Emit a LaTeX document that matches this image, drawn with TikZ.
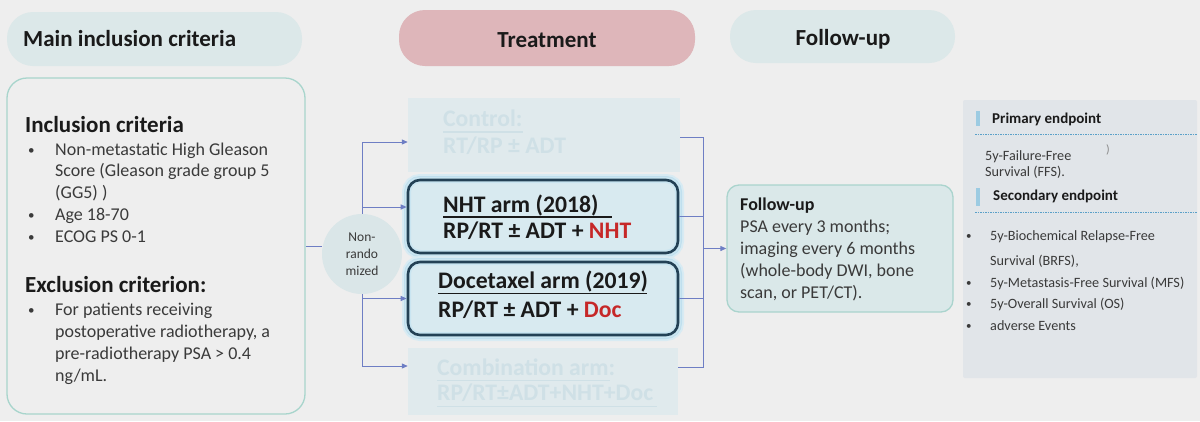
\documentclass[tikz,border=0pt]{standalone}
\usepackage{fontspec}
\setmainfont{Carlito}
\usetikzlibrary{arrows.meta}
\definecolor{bg}{HTML}{EEEEEE}
\definecolor{hdr}{HTML}{DCE8E9}
\definecolor{pinkc}{HTML}{DEB6BA}
\definecolor{tealb}{HTML}{A8D5CC}
\definecolor{ghost}{HTML}{E0EAED}
\definecolor{ghosttxt}{HTML}{CFE0E6}
\definecolor{armfill}{HTML}{D8EAF0}
\definecolor{armdark}{HTML}{234155}
\definecolor{glowfar}{HTML}{D8EBF3}
\definecolor{glowout}{HTML}{BFDFEE}
\definecolor{glowin}{HTML}{C9E5F1}
\definecolor{connc}{HTML}{6E7EC4}
\definecolor{circf}{HTML}{DAE6E8}
\definecolor{fufill}{HTML}{DAE8E9}
\definecolor{fubord}{HTML}{AAD4CD}
\definecolor{panelc}{HTML}{E1E5E9}
\definecolor{redt}{HTML}{C62828}
\definecolor{barc}{HTML}{9CCBE2}
\definecolor{dashc}{HTML}{5AA0C8}
\definecolor{txt}{HTML}{1A1A1A}
\definecolor{bodyc}{HTML}{3A3A3A}
\begin{document}
\begin{tikzpicture}[x=1pt,y=-1pt,
  pillbox/.style={rounded corners=26pt, inner sep=0pt, draw=none},
  lbl/.style={anchor=base west, inner sep=0pt},
  hdrfont/.style={font=\fontsize{23}{27}\selectfont\bfseries, text=txt},
  bodyfont/.style={font=\fontsize{18}{21.6}\selectfont, text=bodyc},
  bulfont/.style={font=\fontsize{13}{16}\selectfont, text=bodyc},
  armfont/.style={font=\fontsize{23.7}{28}\selectfont\bfseries, text=txt},
  ghostfont/.style={font=\fontsize{23.7}{28}\selectfont\bfseries, text=ghosttxt},
  ghostbox/.style={fill=ghost, inner sep=0pt, minimum width=272pt},
  armbox/.style={inner sep=0pt, minimum width=270pt, minimum height=73pt, rounded corners=12pt,
    preaction={draw=glowfar, line width=12pt},
    preaction={draw=glowout, line width=8pt},
    preaction={fill=armfill},
    preaction={draw=glowin, line width=6pt},
    draw=armdark, line width=2.6pt},
  uline/.style={line width=1.5pt},
  connline/.style={draw=connc, line width=1pt},
  arrline/.style={connline, -{Triangle[length=6pt,width=5pt]}},
  fufont/.style={font=\fontsize{18}{22}\selectfont, text=bodyc},
  rpbold/.style={font=\fontsize{15}{18}\selectfont\bfseries, text=txt},
  rpfont/.style={font=\fontsize{14.2}{17}\selectfont, text=bodyc},
  rpbul/.style={font=\fontsize{11}{14}\selectfont, text=bodyc}
]
\fill[bg] (0,0) rectangle (1200,421);
\useasboundingbox (0,0) rectangle (1200,421);

% headers
\node[pillbox, fill=hdr, minimum width=295pt, minimum height=54pt] (hmain) at (154.5,39) {};
\node[lbl, hdrfont] (hmaint) at (23,46) {Main inclusion criteria};
\node[pillbox, fill=pinkc, minimum width=296pt, minimum height=56pt] (htreat) at (547,38) {};
\node[hdrfont, anchor=base, inner sep=0pt] (htreatt) at (547,47) {Treatment};
\node[pillbox, fill=hdr, minimum width=225pt, minimum height=53pt] (hfu) at (842.5,36.5) {};
\node[hdrfont, anchor=base, inner sep=0pt] (hfut) at (843,45) {Follow-up};

% left box
\node[draw=tealb, line width=1.3pt, rounded corners=20pt, minimum width=298pt, minimum height=336pt, inner sep=0pt] (lbox) at (156,246) {};
\node[lbl, hdrfont] (inct) at (25,132) {Inclusion criteria};
\foreach \t [count=\i from 0] in {{Non-metastatic High Gleason},{Score (Gleason grade group 5},{(GG5) )},{Age 18-70},{ECOG PS 0-1}}
  \node[lbl, bodyfont] (inc\i) at (55,155+21.75*\i) {\t};
\node[lbl, bulfont] (bi1) at (28,154) {•};
\node[lbl, bulfont] (bi2) at (28,219) {•};
\node[lbl, bulfont] (bi3) at (28,241) {•};
\node[lbl, hdrfont] (exct) at (25,292) {Exclusion criterion:};
\foreach \t [count=\i from 0] in {{For patients receiving},{postoperative radiotherapy, a},{pre-radiotherapy PSA > 0.4},{ng/mL.}}
  \node[lbl, bodyfont] (exc\i) at (55,315+22*\i) {\t};
\node[lbl, bulfont] (be1) at (28,314) {•};

% circle
\node[circle, fill=circf, minimum size=80pt, inner sep=0pt, align=center,
  font=\fontsize{13.5}{17}\selectfont, text=bodyc] (circ) at (362,254) {Non-\\rando\\mized};

% arms
\node[ghostbox, minimum height=74pt] (ctrl) at (544,135) {};
\node[lbl, ghostfont] (ctrlt1) at (443,126) {Control:};
\draw[ghosttxt, uline] ([yshift=-6pt]ctrlt1.base west) -- ([yshift=-6pt]ctrlt1.base east);
\node[lbl, ghostfont] (ctrlt2) at (443,153) {RT/RP ± ADT};

\node[armbox] (nht) at (543,216.5) {};
\node[lbl, armfont] (nhtt1) at (443,212) {NHT arm (2018)};
\draw[txt, uline] ([yshift=-5pt]nhtt1.base west) -- ++(169,0);
\node[lbl, armfont] (nhtt2) at (443,238) {RP/RT ± ADT + \textcolor{redt}{NHT}};

\node[armbox] (doc) at (543,298.5) {};
\node[lbl, armfont] (doct1) at (438,288) {Docetaxel arm (2019)};
\draw[txt, uline] ([yshift=-5.5pt]doct1.base west) -- ++(209,0);
\node[lbl, armfont] (doct2) at (438,317) {RP/RT ± ADT + \textcolor{redt}{Doc}};

\node[ghostbox, minimum width=270pt, minimum height=67pt] (comb) at (543,381.5) {};
\node[lbl, ghostfont] (combt1) at (437,375) {Combination arm:};
\draw[ghosttxt, uline] ([yshift=-5.5pt]combt1.base west) -- ++(173,0);
\node[lbl, ghostfont] (combt2) at (437,400) {RP/RT±ADT+NHT+Doc};
\draw[ghosttxt, uline] ([yshift=-6.5pt]combt2.base west) -- ++(220,0);

% follow-up box
\node[draw=fubord, fill=fufill, line width=1.3pt, rounded corners=12pt, minimum width=226pt, minimum height=127pt, inner sep=0pt] (fu) at (840,248.5) {};
\node[lbl, font=\fontsize{18}{22}\selectfont\bfseries, text=txt] (fut) at (740,210) {Follow-up};
\foreach \t [count=\i from 0] in {{PSA every 3 months;},{imaging every 6 months},{(whole-body DWI, bone},{scan, or PET/CT).}}
  \node[lbl, fufont] (ful\i) at (740,232+22.2*\i) {\t};

% right panel
\node[fill=panelc, minimum width=234pt, minimum height=278pt, inner sep=0pt, rounded corners=2pt] (rp) at (1080,239) {};
\fill[barc] (976,111) rectangle (980,126);
\node[lbl, rpbold] (pe) at (992,123) {Primary endpoint};
\draw[dashc, line width=0.8pt, dash pattern=on 1.5pt off 1pt] (975,134) -- (1197,134);
\node[lbl, font=\fontsize{12}{14}\selectfont, text=bodyc!60] (paren) at (1106,153) {)};
\node[lbl, rpfont] (pe1) at (985,160) {5y-Failure-Free};
\node[lbl, rpfont] (pe2) at (985,176) {Survival (FFS).};
\fill[barc] (976,188) rectangle (980,206);
\node[lbl, rpbold] (se) at (993,200) {Secondary endpoint};
\draw[dashc, line width=0.8pt, dash pattern=on 1.5pt off 1pt] (975,212) -- (1197,212);
\node[lbl, rpfont] (se1) at (990,240) {5y-Biochemical Relapse-Free};
\node[lbl, rpfont] (se2) at (990,265) {Survival (BRFS),};
\node[lbl, rpfont] (se3) at (990,287) {5y-Metastasis-Free Survival (MFS)};
\node[lbl, rpfont] (se4) at (990,308) {5y-Overall Survival (OS)};
\node[lbl, rpfont] (se5) at (990,330) {adverse Events};
\node[lbl, rpbul] (sb1) at (966,239) {•};
\node[lbl, rpbul] (sb2) at (966,286) {•};
\node[lbl, rpbul] (sb3) at (966,307) {•};
\node[lbl, rpbul] (sb4) at (966,329) {•};

% connectors left
\draw[connline] (lbox.east) -- (lbox.east -| circ.west);
\coordinate (ctrlin) at ([yshift=-7pt]ctrl.west);
\coordinate (nhtin) at ([yshift=9.5pt]nht.west);
\coordinate (docin) at (doc.west);
\coordinate (combin) at ([yshift=15.5pt]comb.west);
\draw[arrline] (circ.north) |- (ctrlin);
\draw[arrline] (circ.north |- nhtin) -- (nhtin);
\draw[arrline] (circ.south) |- (combin);
\draw[arrline] (circ.south |- docin) -- (docin);

% connectors right
\coordinate (mx) at (703,0);
\coordinate (ctrlout) at ([yshift=-2pt]ctrl.east);
\coordinate (combout) at ([yshift=14.5pt]comb.east);
\draw[connline] (ctrlout) -| (mx |- combout) -- (combout);
\draw[connline] (nht.east) -- (nht.east -| mx);
\draw[connline] (doc.east) -- (doc.east -| mx);
\draw[arrline] (fu.west -| mx) -- (fu.west);
\end{tikzpicture}
\end{document}
